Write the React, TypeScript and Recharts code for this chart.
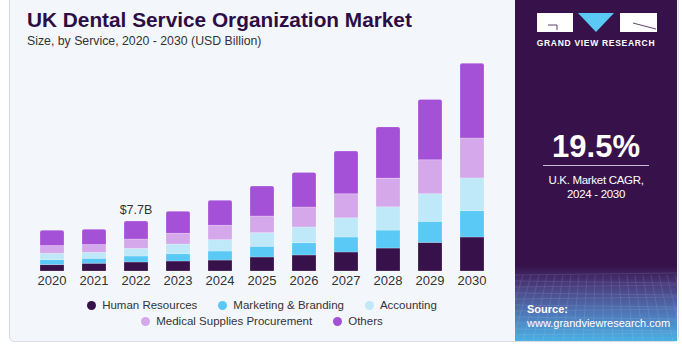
import React from "react";
import { BarChart, Bar, XAxis, YAxis, LabelList } from "recharts";

const years = ["2020", "2021", "2022", "2023", "2024", "2025", "2026", "2027", "2028", "2029", "2030"];
const humanResources = [0.99, 1.19, 1.39, 1.54, 1.69, 2.16, 2.47, 2.93, 3.54, 4.41, 5.24];
const marketingBranding = [0.77, 0.77, 0.92, 1.14, 1.39, 1.65, 1.9, 2.31, 2.77, 3.24, 4.07];
const accounting = [0.97, 0.92, 1.19, 1.48, 1.76, 2.11, 2.42, 2.97, 3.59, 4.27, 5.04];
const medicalSupplies = [1.19, 1.19, 1.43, 1.65, 2.2, 2.56, 3.08, 3.7, 4.42, 5.24, 6.16];
const others = [2.36, 2.36, 2.77, 3.39, 3.85, 4.62, 5.33, 6.58, 7.9, 9.29, 11.51];
const labelYear = "2022";

const series = [
  { key: "hr", name: "Human Resources", color: "#37114a" },
  { key: "mkt", name: "Marketing & Branding", color: "#5bc9f6" },
  { key: "acc", name: "Accounting", color: "#bfe9f9" },
  { key: "med", name: "Medical Supplies Procurement", color: "#d5a8ec" },
  { key: "oth", name: "Others", color: "#a551d7" },
];

const data = years.map((year, i) => ({
  year,
  hr: humanResources[i],
  mkt: marketingBranding[i],
  acc: accounting[i],
  med: medicalSupplies[i],
  oth: others[i],
  total: humanResources[i] + marketingBranding[i] + accounting[i] + medicalSupplies[i] + others[i],
}));

const FONT = "'Liberation Sans', Arial, sans-serif";

// legend drawn as plain html under the chart, two rows like the original
const ChartLegend = () => {
  const rows = [series.slice(0, 3), series.slice(3)];
  return (
    <div style={{ position: "absolute", left: 0, top: 297, width: 524, fontFamily: FONT, fontSize: 11.5, color: "#333" }}>
      {rows.map((row, r) => (
        <div key={r} style={{ display: "flex", justifyContent: "center", gap: 21, height: 16, alignItems: "center" }}>
          {row.map((s) => (
            <div key={s.key} style={{ display: "flex", alignItems: "center" }}>
              <span style={{ width: 9, height: 9, borderRadius: "50%", background: s.color, marginRight: 6, display: "inline-block" }} />
              <span>{s.name}</span>
            </div>
          ))}
        </div>
      ))}
    </div>
  );
};

const TotalLabel = (props: any) => {
  const { x, y, width, index } = props;
  if (data[index].year !== labelYear) return null;
  return (
    <text x={x + width / 2} y={y - 7} textAnchor="middle" fontFamily={FONT} fontSize={12.5} fill="#333">
      {"$" + data[index].total.toFixed(1) + "B"}
    </text>
  );
};

export default function App() {
  return (
    <div style={{ position: "absolute", left: 0, top: 0, width: 682, height: 348, background: "#fff", overflow: "hidden" }}>
      {/* card */}
      <div
        style={{
          position: "absolute",
          left: 9,
          top: -6,
          width: 668,
          height: 346,
          background: "#f3f7fb",
          border: "1px solid #d9dde2",
          borderRadius: 5,
        }}
      />
      <div style={{ position: "absolute", left: 27, top: 8, fontFamily: FONT, fontWeight: 700, fontSize: 20.8, color: "#2e0d45", whiteSpace: "nowrap" }}>
        UK Dental Service Organization Market
      </div>
      <div style={{ position: "absolute", left: 27, top: 34, fontFamily: FONT, fontSize: 12.3, color: "#333", whiteSpace: "nowrap" }}>
        Size, by Service, 2020 - 2030 (USD Billion)
      </div>

      <div style={{ position: "absolute", left: 0, top: 0 }}>
        <BarChart width={515} height={348} data={data} margin={{ top: 44, right: 22, left: 31, bottom: 57 }} barSize={24}>
          <XAxis
            dataKey="year"
            height={20}
            axisLine={false}
            tickLine={false}
            tickSize={0}
            tickMargin={5}
            interval={0}
            tick={{ fontFamily: FONT, fontSize: 13, fill: "#333" }}
          />
          <YAxis hide domain={[0, 35]} />
          {series.map((s, i) => (
            <Bar
              key={s.key}
              dataKey={s.key}
              name={s.name}
              stackId="a"
              fill={s.color}
              stroke="#ffffff"
              strokeOpacity={0.35}
              strokeWidth={0.6}
              radius={i === series.length - 1 ? [2, 2, 0, 0] : 0}
              isAnimationActive={false}
            >
              {i === series.length - 1 && <LabelList dataKey="total" content={TotalLabel} />}
            </Bar>
          ))}
        </BarChart>
      </div>
      <ChartLegend />

      {/* right panel */}
      <div
        style={{
          position: "absolute",
          left: 515,
          top: 0,
          width: 162,
          height: 341,
          background: "linear-gradient(180deg, #37124a 0%, #37124a 78%, #4b3f80 84%, #4f78b8 92%, #4ab0e4 100%)",
          overflow: "hidden",
        }}
      >
        <svg width={162} height={341} style={{ position: "absolute", left: 0, top: 0 }}>
          <g opacity={0.18} stroke="#cfe6ff" strokeWidth={0.7} fill="none">
            {Array.from({ length: 12 }).map((_, k) => (
              <line key={"h" + k} x1={0} x2={162} y1={275 + k * 6} y2={275 + k * 6 + (k % 2 ? 2 : -2)} />
            ))}
            {Array.from({ length: 22 }).map((_, k) => (
              <line key={"v" + k} x1={k * 8} x2={k * 8 + (k - 11) * 2} y1={275} y2={341} />
            ))}
          </g>
          {/* logo */}
          <rect x={22} y={13} width={36} height={19} fill="#fff" />
          <polyline points="33,25 42,25 42,30" stroke="#37124a" strokeWidth={0.8} fill="none" />
          <polygon points="63,13 99,13 81,32" fill="#5bc9f6" />
          <rect x={105} y={13} width={37} height={19} fill="#fff" />
          <line x1={118} y1={23} x2={141} y2={29} stroke="#37124a" strokeWidth={0.8} />
        </svg>
        <div
          style={{
            position: "absolute",
            left: 0,
            top: 38,
            width: 162,
            textAlign: "center",
            fontFamily: FONT,
            fontWeight: 700,
            fontSize: 8.5,
            letterSpacing: 0.7,
            color: "#fff",
          }}
        >
          GRAND VIEW RESEARCH
        </div>
        <div style={{ position: "absolute", left: 0, top: 129, width: 162, textAlign: "center", fontFamily: FONT, fontWeight: 700, fontSize: 31, color: "#fff" }}>
          19.5%
        </div>
        <div style={{ position: "absolute", left: 28, top: 165, width: 106, height: 1, background: "#c9b8d6" }} />
        <div
          style={{
            position: "absolute",
            left: 0,
            top: 173,
            width: 162,
            textAlign: "center",
            fontFamily: FONT,
            fontSize: 11.5,
            lineHeight: "14px",
            letterSpacing: -0.3,
            color: "#fff",
          }}
        >
          U.K. Market CAGR,
          <br />
          2024 - 2030
        </div>
        <div style={{ position: "absolute", left: 12, top: 302, fontFamily: FONT, fontSize: 11, lineHeight: "14px", color: "#fff" }}>
          <div style={{ fontWeight: 700 }}>Source:</div>
          <div>www.grandviewresearch.com</div>
        </div>
      </div>
    </div>
  );
}
